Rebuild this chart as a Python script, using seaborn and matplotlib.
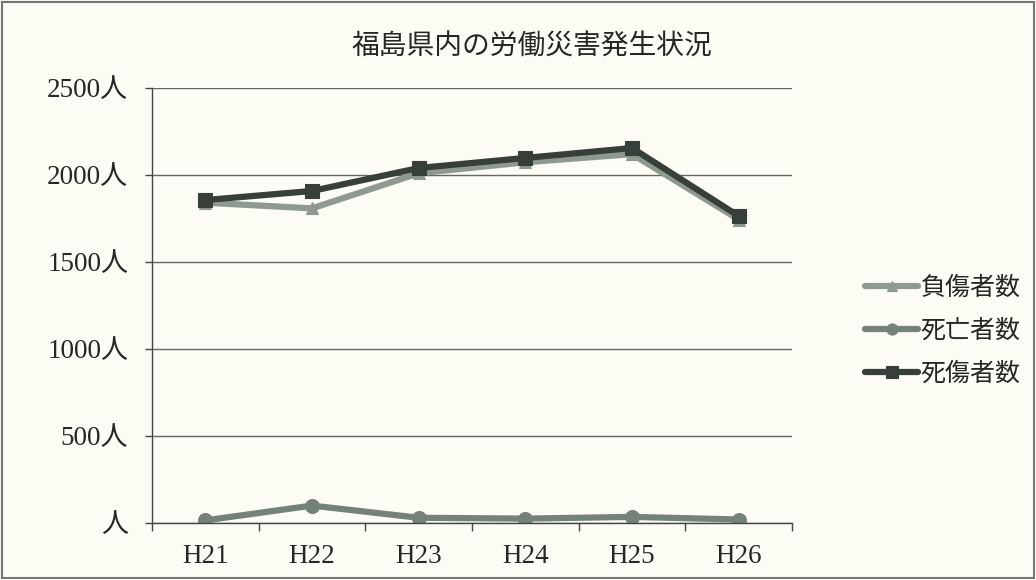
import matplotlib
matplotlib.use('Agg')
import matplotlib.pyplot as plt
import pandas as pd
import seaborn as sns
from matplotlib.patches import Rectangle

# データ
years = ['H21', 'H22', 'H23', 'H24', 'H25', 'H26']
injured = [1841, 1808, 2010, 2073, 2120, 1744]   # 負傷者数
deaths = [15, 100, 30, 25, 35, 20]                # 死亡者数
casualties = [1856, 1908, 2040, 2098, 2155, 1764] # 死傷者数
y_ticks = [0, 500, 1000, 1500, 2000, 2500]

sns.set_theme(style='white')
plt.rcParams['font.family'] = ['Liberation Serif', 'Noto Sans CJK JP', 'DejaVu Sans']

df = pd.DataFrame({'x': range(len(years)), '負傷者数': injured,
                   '死亡者数': deaths, '死傷者数': casualties})

bg = '#fcfcf5'
fig = plt.figure(figsize=(10.36, 5.8), dpi=100, facecolor=bg)
ax = fig.add_axes([0.1467, 0.0983, 0.6178, 0.75])
ax.set_facecolor(bg)

series = [('負傷者数', '#8e9a90', '^', 9),
          ('死亡者数', '#74837a', 'o', 10),
          ('死傷者数', '#363f39', 's', 10)]
for name, color, marker, ms in series:
    sns.lineplot(data=df, x='x', y=name, ax=ax, color=color, marker=marker,
                 markersize=ms, linewidth=4.5, markeredgewidth=0.8,
                 markeredgecolor=color, label=name)

ax.set_xlim(-0.5, len(years) - 0.5)
ax.set_ylim(0, 2500)
ax.set_xticks(range(len(years)))
ax.set_xticklabels(years, fontsize=19.5)
ax.set_xticks([i - 0.5 for i in range(len(years) + 1)], minor=True)
ax.tick_params(axis='x', which='major', length=0, pad=15)
ax.tick_params(axis='x', which='minor', length=6, width=1, color='#444444',
               direction='out', bottom=True)
ax.set_yticks(y_ticks)
ax.set_yticklabels([(f'{v}人' if v else '人') for v in y_ticks], fontsize=19.5)
ax.tick_params(axis='y', length=5, width=1, color='#444444', direction='out',
               left=True, pad=12)
ax.yaxis.grid(True, color='#666666', linewidth=1)
ax.set_axisbelow(True)
ax.set_xlabel('')
ax.set_ylabel('')
for s in ['top', 'right']:
    ax.spines[s].set_visible(False)
for s in ['left', 'bottom']:
    ax.spines[s].set_color('#444444')
    ax.spines[s].set_linewidth(1)

leg = ax.legend(loc='center left', bbox_to_anchor=(1.095, 0.442), frameon=False,
                borderpad=0, handlelength=2.1, handletextpad=0.1, labelspacing=0.68,
                markerscale=0.8, prop={'family': ['Noto Sans CJK JP'], 'size': 18})

fig.text(0.513, 0.92, '福島県内の労働災害発生状況', ha='center', va='center',
         fontsize=20, family=['Noto Sans CJK JP'])

fig.patches.append(Rectangle((0.002, 0.003), 0.996, 0.994, transform=fig.transFigure,
                             fill=False, edgecolor='#777777', linewidth=1.5))

fig.savefig('out.png', dpi=100, facecolor=bg)
